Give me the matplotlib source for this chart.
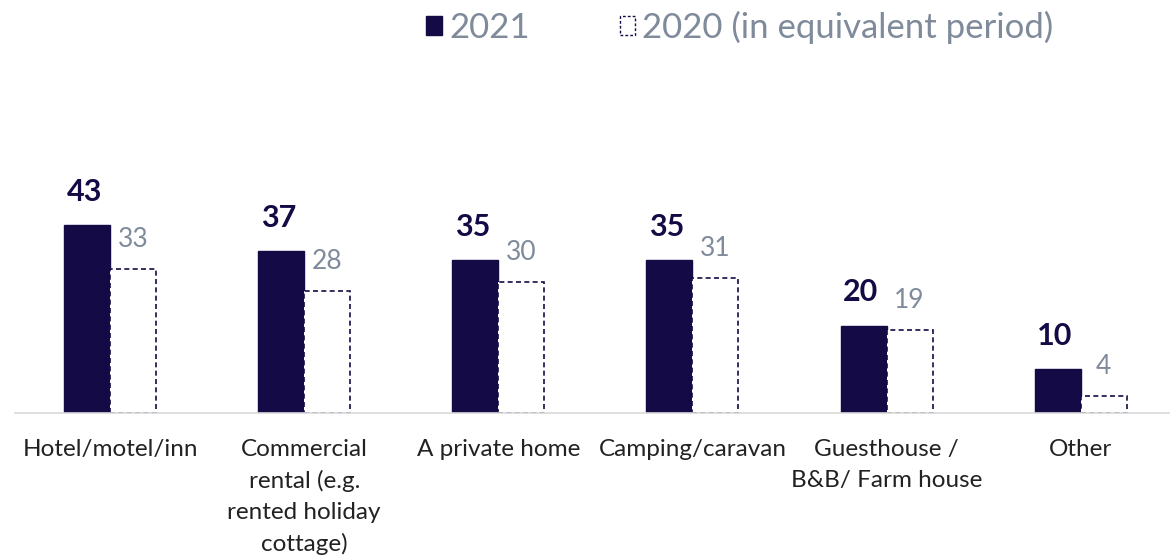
import numpy as np
import matplotlib.pyplot as plt
from matplotlib.patches import Patch

categories = ['Hotel/motel/inn', 'Commercial\nrental (e.g.\nrented holiday\ncottage)',
              'A private home', 'Camping/caravan', 'Guesthouse /\nB&B/ Farm house', 'Other']
vals_2021 = [43, 37, 35, 35, 20, 10]
vals_2020 = [33, 28, 30, 31, 19, 4]

dark = '#140a45'
grey = '#7f8a9b'
plt.rcParams['font.family'] = ['Lato', 'DejaVu Sans']

fig = plt.figure(figsize=(11.7, 5.58), dpi=100)
ax = fig.add_axes([15/1170, 1 - 413/558, 1155/1170, 218.5/558])

x = np.arange(len(categories))
w = 0.237
ax.bar(x - w/2, vals_2021, w, color=dark, edgecolor=dark)
ax.bar(x + w/2, vals_2020, w, color='white', edgecolor=dark,
       linestyle=(0, (3, 2)), linewidth=1.2)

for xi, v in zip(x, vals_2021):
    ax.annotate(str(v), (xi - w/2, v), xytext=(-2, 14), textcoords='offset points',
                ha='center', va='bottom', fontsize=22, fontweight='bold', color=dark)
for xi, v in zip(x, vals_2020):
    ax.annotate(str(v), (xi + w/2, v), xytext=(0, 12), textcoords='offset points',
                ha='center', va='bottom', fontsize=19, color=grey)

ax.set_xlim(-0.49, 5.46)
ax.set_ylim(0, 50)
ax.set_xticks(x)
ax.set_xticklabels(categories, fontsize=17.5, color='#222222', linespacing=1.55, va='top')
ax.tick_params(axis='x', length=0, pad=19)
ax.set_yticks([])
for s in ['top', 'right', 'left']:
    ax.spines[s].set_visible(False)
ax.spines['bottom'].set_color('#d9d9d9')
ax.spines['bottom'].set_linewidth(1.2)

handles = [Patch(facecolor=dark, edgecolor=dark),
           Patch(facecolor='white', edgecolor=dark, linestyle=(0, (2, 1.5)), linewidth=1)]
fig.legend(handles, ['2021', '2020 (in equivalent period)'], loc='center',
           bbox_to_anchor=(740/1170, 1 - 27/558), ncol=2, frameon=False,
           fontsize=25, labelcolor=grey, handlelength=0.45, handleheight=0.45,
           handletextpad=0.2, columnspacing=2.6)

fig.savefig('out.png', dpi=100)
